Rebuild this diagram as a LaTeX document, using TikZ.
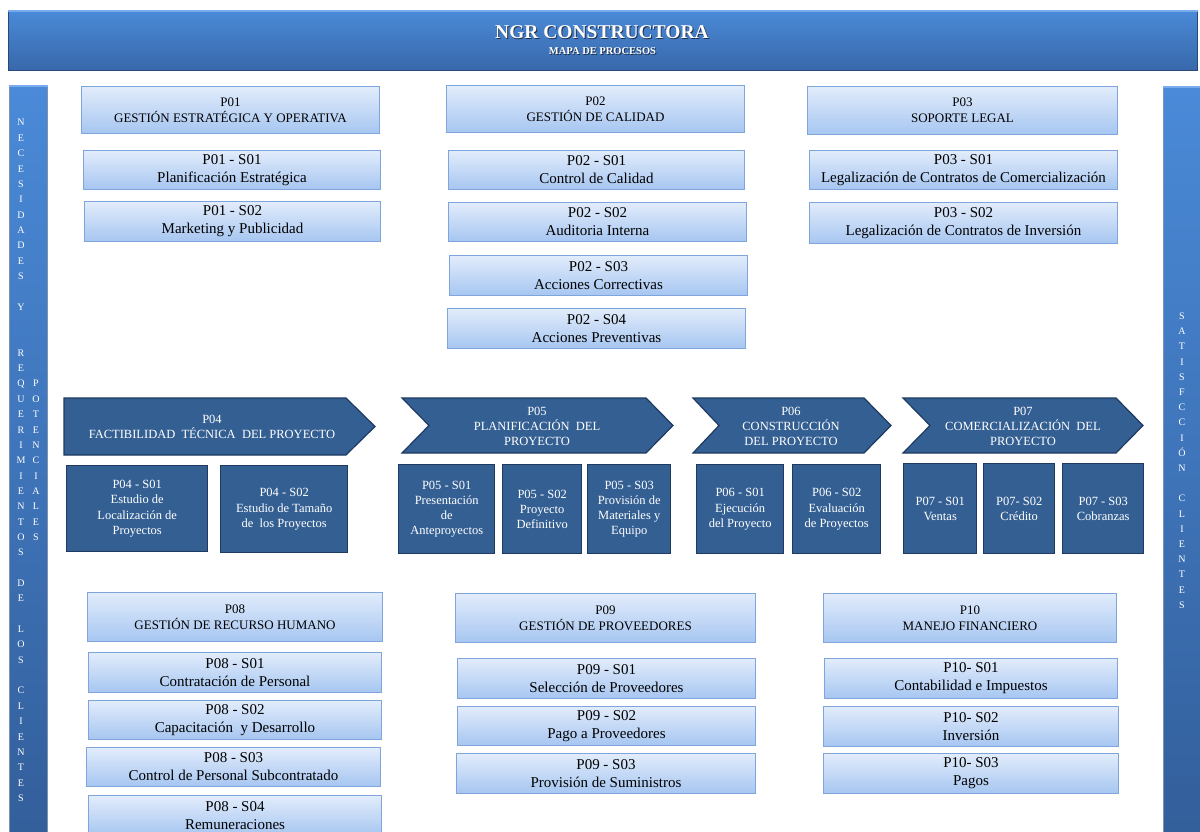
\documentclass[tikz,border=0pt]{standalone}
\usepackage{fontspec}
\setmainfont{Liberation Serif}
\definecolor{hdtop}{RGB}{74,138,216}
\definecolor{hdbot}{RGB}{56,104,170}
\definecolor{hdedge}{RGB}{40,72,118}
\definecolor{hdlight}{RGB}{120,172,238}
\definecolor{titleshadow}{RGB}{30,45,70}
\definecolor{ltop}{RGB}{226,236,251}
\definecolor{lbot}{RGB}{166,198,241}
\definecolor{lborder}{RGB}{128,164,220}
\definecolor{dfill}{RGB}{52,95,147}
\definecolor{dborder}{RGB}{30,58,96}
\tikzset{
  hdbox/.style={draw=hdedge, line width=1pt, top color=hdtop, bottom color=hdbot, inner sep=0pt},
  sidebar/.style={draw=hdedge!60, line width=0.8pt, top color=hdtop, bottom color=hdbot!90!black, inner sep=0pt},
  titletxt/.style={text=white, inner sep=0pt, font=\fontsize{19.5}{22}\selectfont\bfseries},
  subtxt/.style={text=white, inner sep=0pt, font=\fontsize{10.5}{12}\selectfont\bfseries},
  lighthead/.style={draw=lborder, line width=1pt, top color=ltop, bottom color=lbot, align=center,
    inner sep=0pt, anchor=north west, text=black, font=\fontsize{13}{16}\selectfont},
  lightsub/.style={lighthead, font=\fontsize{15}{18}\selectfont},
  darkbox/.style={draw=dborder, line width=1.4pt, fill=dfill, text=white, align=center,
    inner sep=0pt, anchor=north west, font=\fontsize{12.5}{15.2}\selectfont},
  arrowshape/.style={draw=dborder, line width=1.2pt, fill=dfill, line join=miter},
  arrowtext/.style={text=white, align=center, inner sep=0pt, font=\fontsize{12.5}{15}\selectfont},
  sidetxt/.style={text=white, inner sep=0pt, text height=7pt, text depth=0pt, anchor=center,
    font=\fontsize{10}{12}\selectfont}
}
\newcommand{\shadowtxt}[1]{\leavevmode\rlap{\kern0.9pt\raisebox{-0.9pt}{\textcolor{titleshadow}{#1}}}#1}
\newcommand{\BX}[7]{\node[#1,minimum width={#5-#3},minimum height={#6-#4}] (#2) at (#3,#4) {#7};}
\begin{document}
\begin{tikzpicture}[x=1pt,y=-1pt]
\useasboundingbox (0,0) rectangle (1200,832);
% header
\node[hdbox, minimum width=1189, minimum height=60, anchor=north west] (hdr) at (8,10) {};
\draw[hdlight, line width=1.6pt] ([yshift=-1.3pt]hdr.north west) -- ([yshift=-1.3pt]hdr.north east);
\node[titletxt] (title) at (602,33) {\shadowtxt{NGR CONSTRUCTORA}};
\node[subtxt] (subtitle) at (602.5,51.5) {\shadowtxt{MAPA DE PROCESOS}};
% side bars
\node[sidebar, minimum width=38, minimum height=770, anchor=north west] (lbar) at (9,85) {};
\node[sidebar, minimum width=42, minimum height=770, anchor=north west] (rbar) at (1163,86) {};
\draw[hdlight, line width=1.5pt] ([yshift=-1.2pt]lbar.north west) -- ([yshift=-1.2pt]lbar.north east);
\draw[hdlight, line width=1.5pt] ([yshift=-1.2pt]rbar.north west) -- ([yshift=-1.2pt]rbar.north east);
\foreach \c/\i in {N/0,E/1,C/2,E/3,S/4,I/5,D/6,A/7,D/8,E/9,S/10,Y/12,R/15,E/16,Q/17,U/18,E/19,R/20,I/21,M/22,I/23,E/24,N/25,T/26,O/27,S/28,D/30,E/31,L/33,O/34,S/35,C/37,L/38,I/39,E/40,N/41,T/42,E/43,S/44}
  \node[sidetxt] (la\i) at (21,{122.5+15.35*\i}) {\c};
\foreach \c/\i in {P/17,O/18,T/19,E/20,N/21,C/22,I/23,A/24,L/25,E/26,S/27}
  \node[sidetxt] (lb\i) at (36,{122.5+15.35*\i}) {\c};
\foreach \c/\i in {S/0,A/1,T/2,I/3,S/4,F/5,C/6,C/7,I/8,Ó/9,N/10,C/12,L/13,I/14,E/15,N/16,T/17,E/18,S/19}
  \node[sidetxt] (ra\i) at (1182,{316+15.2*\i}) {\c};
% top row
\BX{lighthead}{p01}{81}{86}{379}{133}{P01\\GESTIÓN ESTRATÉGICA Y OPERATIVA}
\BX{lightsub}{p01s01}{83}{150}{380}{189}{P01 - S01\\Planificación Estratégica}
\BX{lightsub}{p01s02}{84}{201}{380}{241}{P01 - S02\\Marketing y Publicidad}
\BX{lighthead}{p02}{446}{85}{744}{132}{P02\\GESTIÓN DE CALIDAD}
\BX{lightsub}{p02s01}{448}{150}{744}{189}{P02 - S01\\Control de Calidad}
\BX{lightsub}{p02s02}{448}{202}{746}{241}{P02 - S02\\Auditoria Interna}
\BX{lightsub}{p02s03}{449}{255}{747}{295}{P02 - S03\\Acciones Correctivas}
\BX{lightsub}{p02s04}{447}{308}{745}{348}{P02 - S04\\Acciones Preventivas}
\BX{lighthead}{p03}{807}{86}{1117}{134}{P03\\SOPORTE LEGAL}
\BX{lightsub}{p03s01}{809}{150}{1117}{189}{P03 - S01\\Legalización de Contratos de Comercialización}
\BX{lightsub}{p03s02}{809}{202}{1117}{243}{P03 - S02\\Legalización de Contratos de Inversión}
% process arrows
\path[arrowshape] (64,398) -- (346,398) -- (375,426.5) -- (346,455) -- (64,455) -- cycle;
\path[arrowshape] (402,398) -- (646,398) -- (673,425.5) -- (646,453) -- (402,453) -- (429,425.5) -- cycle;
\path[arrowshape] (693,398) -- (864,398) -- (891,425.5) -- (864,453) -- (693,453) -- (719,425.5) -- cycle;
\path[arrowshape] (903,398) -- (1116,398) -- (1143,425.5) -- (1116,453) -- (903,453) -- (930,425.5) -- cycle;
\node[arrowtext] (p04) at (212,426.5) {P04\\FACTIBILIDAD\ \ TÉCNICA\ \ DEL PROYECTO};
\node[arrowtext] (p05) at (537,426) {P05\\PLANIFICACIÓN\ \ DEL\\PROYECTO};
\node[arrowtext] (p06) at (791,426) {P06\\CONSTRUCCIÓN\\DEL PROYECTO};
\node[arrowtext] (p07) at (1023,426) {P07\\COMERCIALIZACIÓN\ \ DEL\\PROYECTO};
% dark sub-process boxes
\BX{darkbox}{p04s01}{66}{465}{207}{551}{P04 - S01\\Estudio de\\Localización de\\Proyectos}
\BX{darkbox}{p04s02}{220}{465}{347}{552}{P04 - S02\\Estudio de Tamaño\\de\ \ los Proyectos}
\BX{darkbox}{p05s01}{398}{464}{494}{553}{P05 - S01\\Presentación\\de\\Anteproyectos}
\BX{darkbox}{p05s02}{502}{464}{581}{553}{P05 - S02\\Proyecto\\Definitivo}
\BX{darkbox}{p05s03}{587}{464}{670}{553}{P05 - S03\\Provisión de\\Materiales y\\Equipo}
\BX{darkbox}{p06s01}{696}{464}{783}{553}{P06 - S01\\Ejecución\\del Proyecto}
\BX{darkbox}{p06s02}{792}{464}{880}{553}{P06 - S02\\Evaluación\\de Proyectos}
\BX{darkbox}{p07s01}{903}{463}{976}{553}{P07 - S01\\Ventas}
\BX{darkbox}{p07s02}{983}{463}{1054}{553}{P07- S02\\Crédito}
\BX{darkbox}{p07s03}{1062}{463}{1143}{553}{P07 - S03\\Cobranzas}
% bottom row
\BX{lighthead}{p08}{87}{592}{382}{641}{P08\\GESTIÓN DE RECURSO HUMANO}
\BX{lightsub}{p08s01}{88}{652}{381}{692}{P08 - S01\\Contratación de Personal}
\BX{lightsub}{p08s02}{88}{700}{381}{739}{P08 - S02\\Capacitación\ \ y Desarrollo}
\BX{lightsub}{p08s03}{86}{747}{380}{786}{P08 - S03\\Control de Personal Subcontratado}
\BX{lightsub}{p08s04}{88}{795}{381}{835}{P08 - S04\\Remuneraciones}
\BX{lighthead}{p09}{455}{593}{755}{642}{P09\\GESTIÓN DE PROVEEDORES}
\BX{lightsub}{p09s01}{457}{658}{755}{698}{P09 - S01\\Selección de Proveedores}
\BX{lightsub}{p09s02}{457}{706}{755}{745}{P09 - S02\\Pago a Proveedores}
\BX{lightsub}{p09s03}{456}{753}{755}{793}{P09 - S03\\Provisión de Suministros}
\BX{lighthead}{p10}{823}{593}{1116}{642}{P10\\MANEJO FINANCIERO}
\BX{lightsub}{p10s01}{824}{658}{1117}{698}{P10- S01\\Contabilidad e Impuestos}
\BX{lightsub}{p10s02}{823}{706}{1118}{746}{P10- S02\\Inversión}
\BX{lightsub}{p10s03}{823}{753}{1118}{793}{P10- S03\\Pagos}
\end{tikzpicture}
\end{document}
